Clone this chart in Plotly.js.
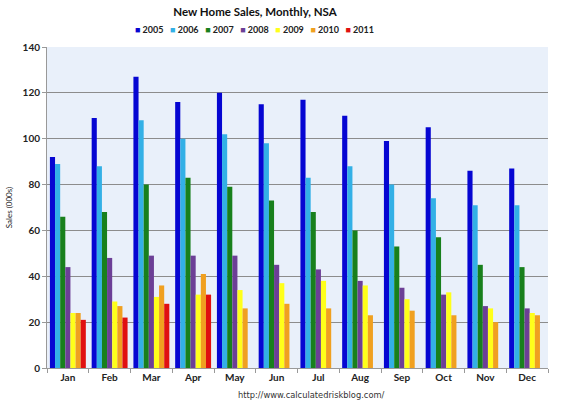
<!DOCTYPE html>
<html>
<head>
<meta charset="utf-8">
<script src="https://cdn.plot.ly/plotly-3.0.1.min.js"></script>
<style>html,body{margin:0;padding:0;background:#fff;}#chart{width:568px;height:402px;}</style>
</head>
<body>
<div id="chart"></div>
<script>
var months = ["Jan","Feb","Mar","Apr","May","Jun","Jul","Aug","Sep","Oct","Nov","Dec"];
var years = ["2005","2006","2007","2008","2009","2010","2011"];
var colors = ["#0606d2","#33b0e6","#18801c","#6c3f96","#ffff1a","#f0a020","#e01010"];
var s2005 = [92,109,127,116,120,115,117,110,99,105,86,87];
var s2006 = [89,88,108,100,102,98,83,88,80,74,71,71];
var s2007 = [66,68,80,83,79,73,68,60,53,57,45,44];
var s2008 = [44,48,49,49,49,45,43,38,35,32,27,26];
var s2009 = [24,29,31,32,34,37,38,36,30,33,26,24];
var s2010 = [24,27,36,41,26,28,26,23,25,23,20,23];
var s2011 = [21,22,28,32,null,null,null,null,null,null,null,null];
var series = [s2005,s2006,s2007,s2008,s2009,s2010,s2011];
var chartTitle = "New Home Sales, Monthly, NSA";
var yTitle = "Sales (000s)";
var sourceText = "http://www.calculatedriskblog.com/";

var font = "Lato, 'Open Sans', sans-serif";
var traces = series.map(function(vals, i){
  return {type:"bar", name: years[i], x: months, y: vals,
          marker:{color: colors[i], line:{width:0}}, showlegend:false, hoverinfo:"x+y+name"};
});

// legend built as one centred line of text from the series names and colours
var legendText = years.map(function(y, i){
  return '<span style="color:' + colors[i] + '">■</span> ' + y;
}).join('&nbsp;&nbsp;&nbsp;');

var layout = {
  width:568, height:402,
  margin:{l:47, r:20, t:47, b:34},
  paper_bgcolor:"#ffffff",
  plot_bgcolor:"#e9f0fa",
  font:{family:font, color:"#222", size:9},
  title:{text:chartTitle, font:{family:font, size:11.5, color:"#111", weight:"bold"},
         x:0.449, xref:"container", xanchor:"center", y:1-12/402, yref:"container", yanchor:"middle"},
  barmode:"group", bargap:0.14, bargroupgap:0,
  xaxis:{type:"category", showgrid:false, showline:true, linecolor:"#999", linewidth:1,
         ticks:"outside", tickson:"boundaries", ticklen:4, tickcolor:"#999",
         tickfont:{family:font, size:10, color:"#222", weight:"bold"}, fixedrange:true},
  yaxis:{range:[0,140], dtick:20, showgrid:true, gridcolor:"#8c8c8c", gridwidth:1,
         showline:true, linecolor:"#999", ticks:"outside", ticklen:4, tickcolor:"#999",
         zeroline:false, tickfont:{family:font, size:10, color:"#222", weight:"bold"},
         title:{text:yTitle, font:{family:font, size:8, color:"#222"}, standoff:8}},
  annotations:[
    {text:legendText, xref:"paper", yref:"paper", x:0.415, y:1.053,
     xanchor:"center", yanchor:"middle", showarrow:false,
     font:{family:font, size:9, color:"#222", weight:"bold"}},
    {text:sourceText, xref:"paper", yref:"paper", x:0.527, y:-0.084,
     xanchor:"center", yanchor:"middle", showarrow:false,
     font:{family:"'DejaVu Sans', sans-serif", size:8.3, color:"#333"}}
  ]
};
Plotly.newPlot("chart", traces, layout, {staticPlot:true, displayModeBar:false});
</script>
</body>
</html>
